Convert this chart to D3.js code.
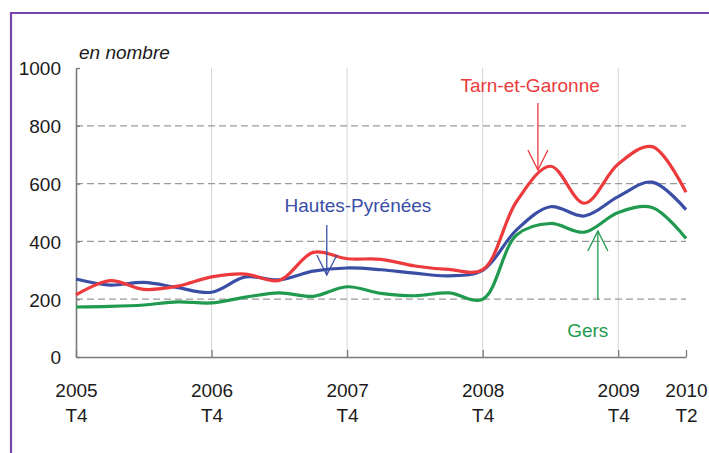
<!DOCTYPE html>
<html>
  <head>
    <meta charset="UTF-8">
    <script src="https://cdn.jsdelivr.net/npm/d3@7"></script>
    <style>
      body { margin: 0; background: #fff; }
      svg { display: block; font-family: "Liberation Sans", Arial, sans-serif; }
      .tick text { fill: #1a1a1a; font-size: 19px; }
    </style>
  </head>
<body>
<script>
var svgWidth = 709, svgHeight = 453;

// quarters, 2005 T4 -> 2010 T2
var quarters = ["2005 T4",
  "2006 T1", "2006 T2", "2006 T3", "2006 T4",
  "2007 T1", "2007 T2", "2007 T3", "2007 T4",
  "2008 T1", "2008 T2", "2008 T3", "2008 T4",
  "2009 T1", "2009 T2", "2009 T3", "2009 T4",
  "2010 T1", "2010 T2"];
var xTicks = ["2005 T4", "2006 T4", "2007 T4", "2008 T4", "2009 T4", "2010 T2"];
var yTicks = [0, 200, 400, 600, 800, 1000];

var tarn   = [215, 264, 234, 245, 277, 287, 265, 362, 340, 338, 315, 303, 302, 538, 660, 532, 668, 728, 570];
var hautes = [270, 249, 258, 240, 224, 277, 267, 297, 308, 302, 290, 281, 300, 440, 520, 488, 555, 605, 510];
var gers   = [173, 175, 180, 191, 187, 207, 222, 210, 243, 220, 212, 222, 200, 422, 462, 432, 500, 517, 410];

var seriesNames  = ["Hautes-Pyrénées", "Gers", "Tarn-et-Garonne"];
var seriesValues = [hautes, gers, tarn];
var seriesColors = ["#3a4ea6", "#1f9a4e", "#ec3a3d"];

// annotations: label, quarter position (index), text value, arrow from/to values
var notes = [
  {name: "Tarn-et-Garonne", color: "#ec3a3d", tx: 13.4, ty: 917, ax: 13.63, from: 879, to: 647},
  {name: "Hautes-Pyrénées", color: "#3a4ea6", tx: 8.32, ty: 502, ax: 7.40, from: 457, to: 284},
  {name: "Gers", color: "#1f9a4e", tx: 15.1, ty: 69, ax: 15.40, from: 197, to: 436}
];

var margin = {top: 68, left: 76, right: 23, bottom: 96};

var svg = d3.select("body").append("svg")
  .attr("width", svgWidth)
  .attr("height", svgHeight);

// purple frame
svg.append("path")
  .attr("d", "M11," + (svgHeight + 5) + " V13 H" + (svgWidth + 5))
  .attr("fill", "none")
  .attr("stroke", "#7446ab")
  .attr("stroke-width", 2.2);

var x = d3.scalePoint()
  .domain(quarters)
  .range([margin.left, svgWidth - margin.right]);

var xi = d3.scaleLinear()
  .domain([0, quarters.length - 1])
  .range([margin.left, svgWidth - margin.right]);

var y = d3.scaleLinear()
  .domain([0, 1000])
  .range([svgHeight - margin.bottom, margin.top]);

// vertical grid at each T4
svg.append("g").selectAll("line")
  .data(xTicks.slice(1, 5))
  .enter().append("line")
  .attr("x1", function(d) { return x(d); })
  .attr("x2", function(d) { return x(d); })
  .attr("y1", y(1000))
  .attr("y2", y(0))
  .attr("stroke", "#d4d4d4")
  .attr("stroke-width", 1);

// dashed horizontal grid
svg.append("g").selectAll("line")
  .data(yTicks.slice(1, 5))
  .enter().append("line")
  .attr("x1", x.range()[0])
  .attr("x2", x.range()[1])
  .attr("y1", function(d) { return y(d); })
  .attr("y2", function(d) { return y(d); })
  .attr("stroke", "#9a9a9a")
  .attr("stroke-width", 1.3)
  .attr("stroke-dasharray", "7,4");

// axes
var gY = svg.append("g")
  .attr("transform", "translate(" + margin.left + ",0)")
  .call(d3.axisLeft(y).tickValues(yTicks).tickFormat(d3.format("d"))
    .tickSize(-4).tickPadding(15).tickSizeOuter(0));

var gX = svg.append("g")
  .attr("transform", "translate(0," + y(0) + ")")
  .call(d3.axisBottom(x).tickValues(xTicks).tickSize(-7).tickSizeOuter(0).tickFormat(""));

[gX, gY].forEach(function(g) {
  g.select(".domain").attr("stroke", "#7a7a7a").attr("stroke-width", 1.6);
  g.selectAll(".tick line").attr("stroke", "#7a7a7a").attr("stroke-width", 1.3);
});
gY.selectAll(".tick text").attr("dy", "0.36em");

// two-line x labels
var xl = gX.selectAll(".tick").append("text")
  .attr("fill", "#1a1a1a")
  .attr("text-anchor", "middle")
  .style("font-size", "19px");
xl.append("tspan").attr("x", 0).attr("y", 40)
  .text(function(d) { return d.split(" ")[0]; });
xl.append("tspan").attr("x", 0).attr("y", 65)
  .text(function(d) { return d.split(" ")[1]; });

// unit label
svg.append("text")
  .attr("x", 79).attr("y", 59)
  .style("font-size", "19px")
  .style("font-style", "italic")
  .attr("fill", "#1a1a1a")
  .text("en nombre");

// lines
var line = d3.line()
  .x(function(d, i) { return x(quarters[i]); })
  .y(function(d) { return y(d); })
  .curve(d3.curveCatmullRom.alpha(0.5));

svg.append("g").selectAll("path")
  .data(seriesValues)
  .enter().append("path")
  .attr("d", line)
  .attr("fill", "none")
  .attr("stroke", function(d, i) { return seriesColors[i]; })
  .attr("stroke-width", 3.2)
  .attr("stroke-linejoin", "round");

// annotations with open arrows
notes.forEach(function(n) {
  var g = svg.append("g").attr("stroke", n.color).attr("fill", "none").attr("stroke-width", 1.3);
  var ax = xi(n.ax), y0 = y(n.from), y1 = y(n.to);
  var dir = y1 > y0 ? -1 : 1;
  g.append("line").attr("x1", ax).attr("x2", ax).attr("y1", y0).attr("y2", y1);
  g.append("path")
    .attr("d", "M" + (ax - 10) + "," + (y1 + dir * 20) + " L" + ax + "," + y1 + " L" + (ax + 10) + "," + (y1 + dir * 20));
  svg.append("text")
    .attr("x", xi(n.tx)).attr("y", y(n.ty))
    .attr("text-anchor", "middle")
    .attr("fill", n.color)
    .style("font-size", "19px")
    .text(n.name);
});
</script>
</body>
</html>
